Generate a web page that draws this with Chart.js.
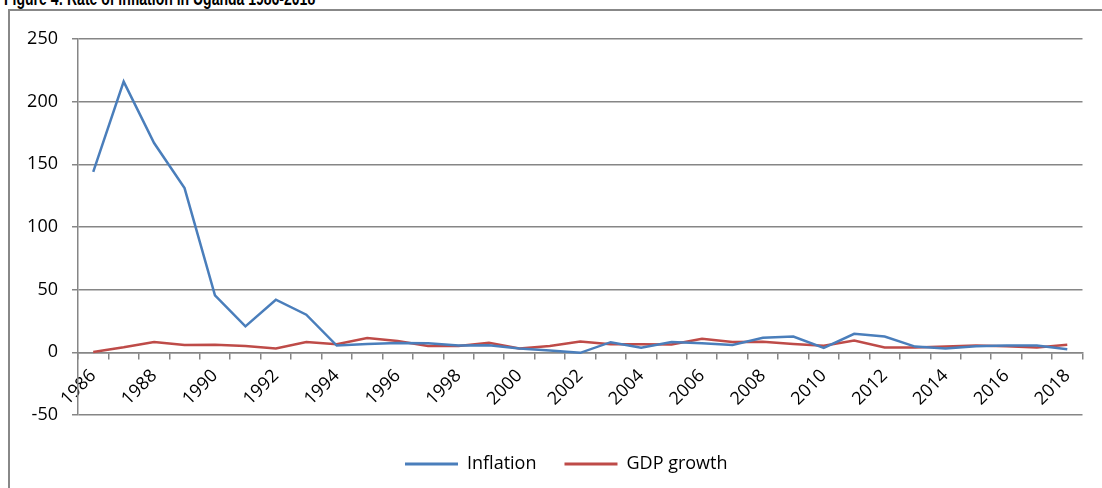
<!DOCTYPE html>
<html><head><meta charset="utf-8">
<script src="https://cdn.jsdelivr.net/npm/chart.js@4.4.0/dist/chart.umd.min.js"></script>
<style>
html,body{margin:0;padding:0;background:#fff;overflow:hidden}
#wrap{position:relative;width:1102px;height:488px;overflow:hidden}
#frame{position:absolute;left:8px;top:9px;width:1200px;height:600px;border-left:2px solid #888;border-top:2px solid #888}
#title{position:absolute;left:4px;top:-12px;font:bold 20px "Liberation Sans",Arial,sans-serif;line-height:20px;transform:scaleX(0.7);transform-origin:0 0;white-space:nowrap;color:#000}
canvas{position:absolute;left:0;top:0}
</style></head>
<body><div id="wrap"><div id="frame"></div><div id="title">Figure 4: Rate of inflation in Uganda 1986-2018</div><canvas id="c" width="1102" height="488"></canvas></div>
<script>
const years = [1986,1987,1988,1989,1990,1991,1992,1993,1994,1995,1996,1997,1998,1999,2000,2001,2002,2003,2004,2005,2006,2007,2008,2009,2010,2011,2012,2013,2014,2015,2016,2017,2018];
const inflation = [144,216,167,131,45.4,20.7,42,30,5.4,6.7,7.5,7.2,5.4,5.6,3.0,1.5,-0.4,8.1,3.7,8.3,7.3,5.9,11.6,12.6,3.5,14.8,12.6,4.6,3.0,4.8,5.4,5.4,2.4];
const gdpGrowth = [0.3,4.0,8.3,5.9,6.0,5.1,3.0,8.3,6.4,11.5,9.0,5.0,5.1,7.6,3.1,5.0,8.6,6.5,6.5,6.2,10.8,8.2,8.4,6.6,5.3,9.4,3.8,3.8,4.6,5.4,4.8,3.9,6.1];
const seriesNames = ['Inflation','GDP growth'];
const yMin = -50, yMax = 250, yStep = 50;

const FONT = {family:'"Open Sans", sans-serif', size:18};
const GRID = '#868686';

const legendShift = {
  id:'legendShift',
  afterLayout(chart){
    const lg = chart.legend;
    if (lg) { lg.left += 25; lg.right += 25; }
  }
};

new Chart(document.getElementById('c'), {
  type: 'line',
  data: {
    labels: years.map(String),
    datasets: [
      {label: seriesNames[0], data: inflation, borderColor:'#4A7EBB', backgroundColor:'#4A7EBB', borderWidth:2.5, pointRadius:0, tension:0, fill:false},
      {label: seriesNames[1], data: gdpGrowth, borderColor:'#BE4B48', backgroundColor:'#BE4B48', borderWidth:2.5, pointRadius:0, tension:0, fill:false}
    ]
  },
  plugins:[legendShift],
  options: {
    responsive:false, devicePixelRatio:1, animation:false,
    layout:{padding:{left:0,right:19.5,top:39,bottom:5}},
    plugins:{
      tooltip:{enabled:false},
      legend:{
        position:'bottom',
        title:{display:true,text:'',font:{size:10},padding:0},
        labels:{
          font:FONT, color:'#000', boxWidth:53, boxHeight:3, padding:28,
          generateLabels:(chart)=>Chart.defaults.plugins.legend.labels.generateLabels(chart).map(l=>Object.assign(l,{lineWidth:0}))
        }
      }
    },
    scales:{
      x:{
        type:'category', position:{y:0}, offset:true,
        grid:{offset:true, drawOnChartArea:false, drawTicks:true, tickLength:6, color:GRID, lineWidth:1.5},
        border:{color:GRID, width:1.5},
        ticks:{autoSkip:false, maxRotation:45, minRotation:45, color:'#000', font:FONT, padding:7,
          callback:(v,i)=> i%2===0 ? String(years[i]) : ''},
        afterFit:(s)=>{s.paddingLeft=0;s.paddingRight=0;}
      },
      y:{
        min:yMin, max:yMax,
        grid:{color:GRID, lineWidth:1.5, tickLength:6},
        border:{color:GRID, width:1.5},
        ticks:{stepSize:yStep, color:'#000', font:FONT, padding:14},
        afterFit:(s)=>{s.width=78;s.paddingTop=0;s.paddingBottom=0;}
      }
    }
  }
});
</script>
</body></html>
